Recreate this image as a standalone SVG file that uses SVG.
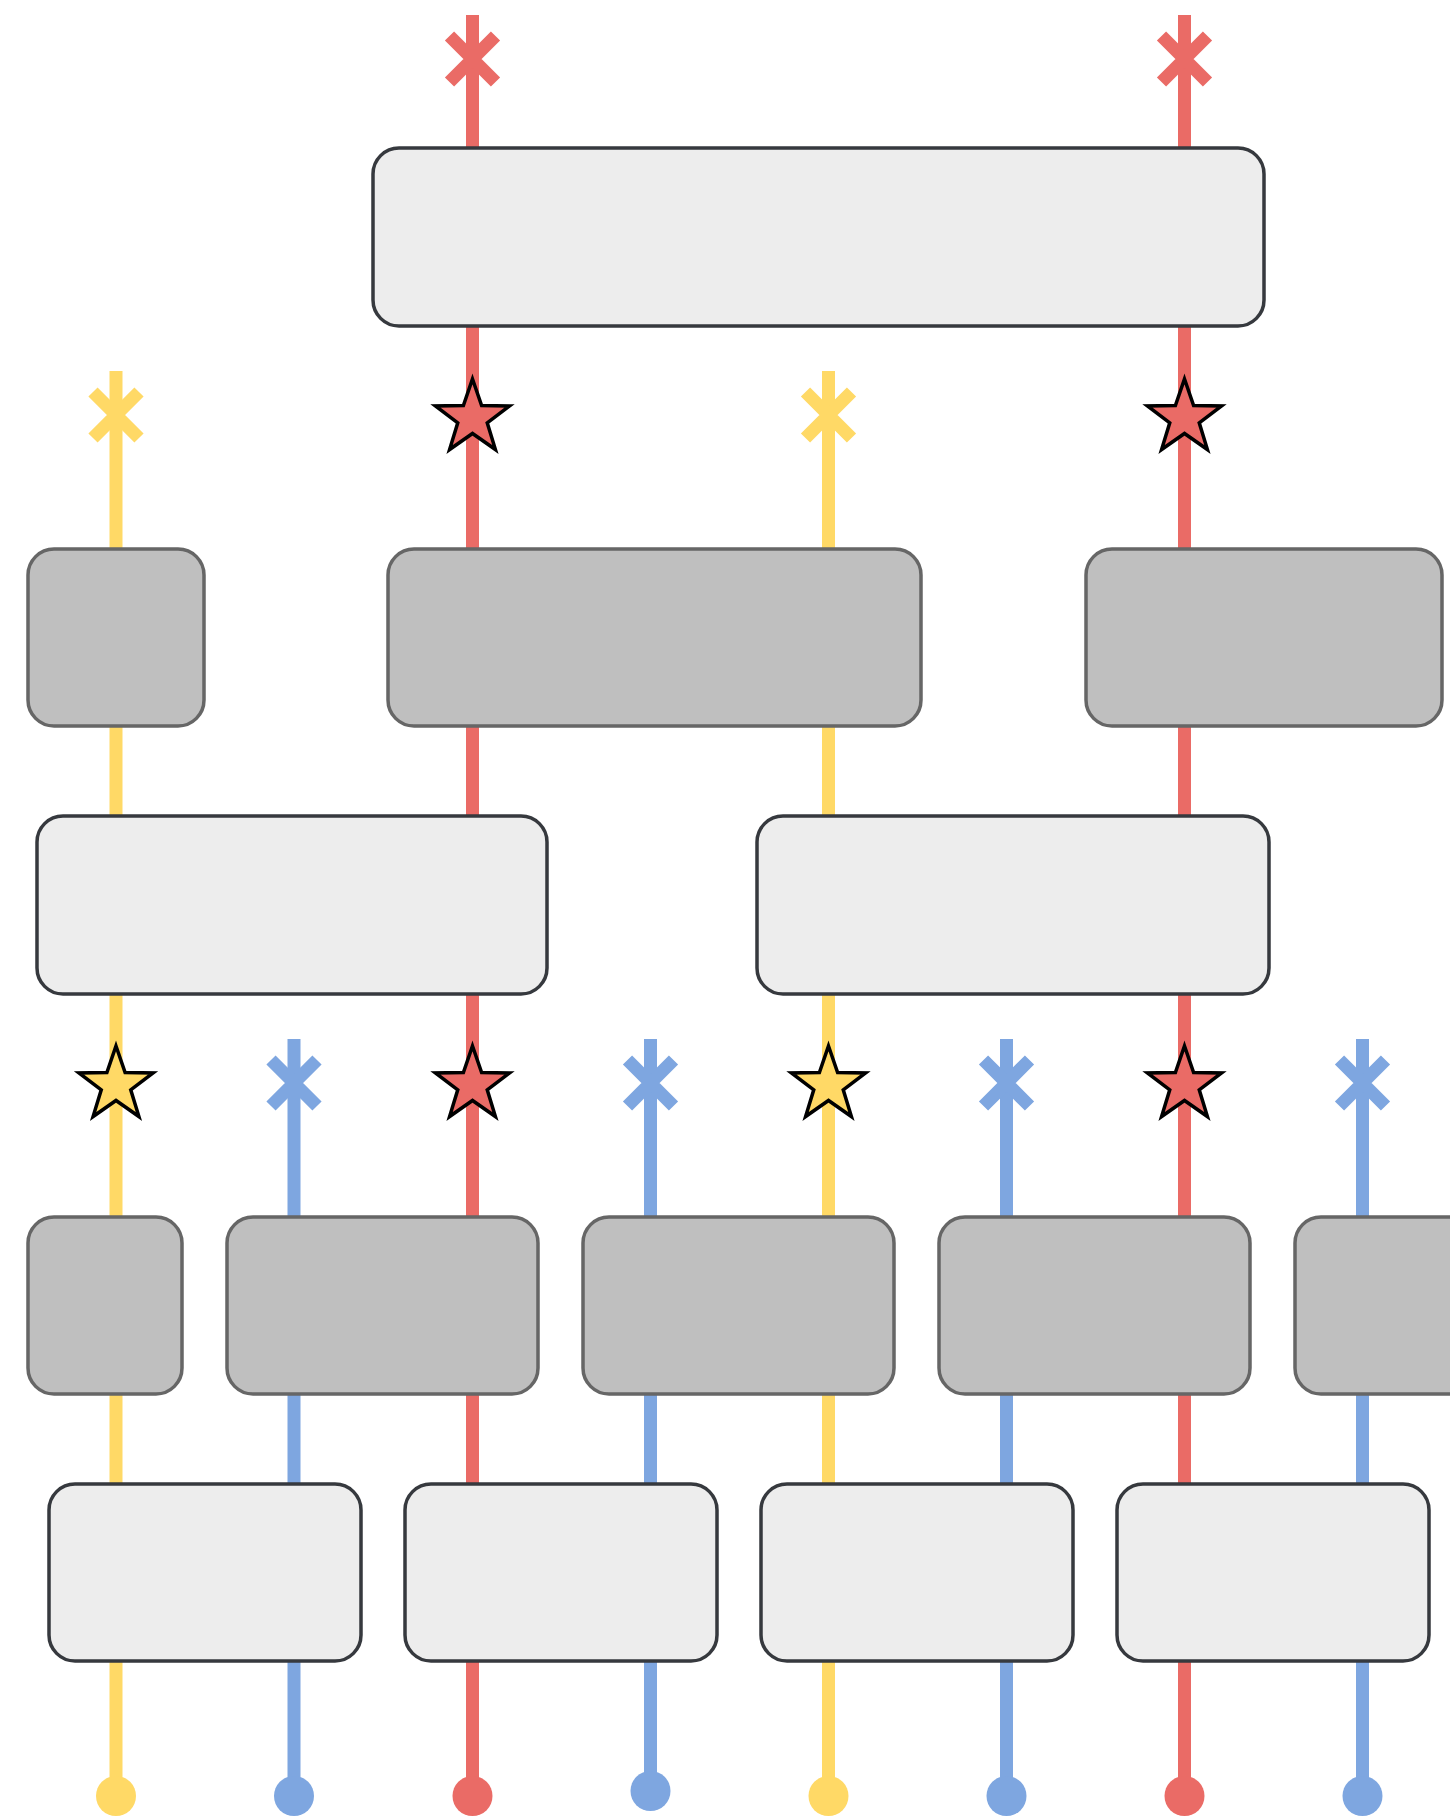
<svg xmlns="http://www.w3.org/2000/svg" xmlns:xlink="http://www.w3.org/1999/xlink" width="1450" height="1819" viewBox="0 0 1450 1819">
<style>
.w{stroke-width:13;fill:none;stroke-linecap:butt}
.r{stroke:#ea6b66}.y{stroke:#ffd966}.b{stroke:#7ea6e0}
.rf{fill:#ea6b66}.yf{fill:#ffd966}.bf{fill:#7ea6e0}
.light{fill:#ededed;stroke:#36393e;stroke-width:3.5}
.gray{fill:#bfbfbf;stroke:#666666;stroke-width:3.5}
.st{stroke:#000000;stroke-width:3.5;stroke-linejoin:miter}
</style>
<defs>
<path id="star" d="M0,-39 L9.11,-12.54 L37.09,-12.05 L14.74,4.79 L22.92,31.55 L0,15.5 L-22.92,31.55 L-14.74,4.79 L-37.09,-12.05 L-9.11,-12.54 Z"/>
<path id="xm" d="M-23,-23 L23,23 M23,-23 L-23,23"/>
</defs>
<g id="connectors">
<line class="w r" x1="472.5" y1="15" x2="472.5" y2="1796"/>
<line class="w r" x1="1184.5" y1="15" x2="1184.5" y2="1796"/>
<line class="w y" x1="116" y1="371" x2="116" y2="1796"/>
<line class="w y" x1="828.5" y1="371" x2="828.5" y2="1796"/>
<line class="w b" x1="294" y1="1039" x2="294" y2="1796"/>
<line class="w b" x1="650.5" y1="1039" x2="650.5" y2="1791"/>
<line class="w b" x1="1006.5" y1="1039" x2="1006.5" y2="1796"/>
<line class="w b" x1="1362.5" y1="1039" x2="1362.5" y2="1796"/>
<use xlink:href="#xm" class="w r" x="472.5" y="59"/>
<use xlink:href="#xm" class="w r" x="1184.5" y="59"/>
<use xlink:href="#xm" class="w y" x="116" y="415"/>
<use xlink:href="#xm" class="w y" x="828.5" y="415"/>
<use xlink:href="#xm" class="w b" x="294" y="1083"/>
<use xlink:href="#xm" class="w b" x="650.5" y="1083"/>
<use xlink:href="#xm" class="w b" x="1006.5" y="1083"/>
<use xlink:href="#xm" class="w b" x="1362.5" y="1083"/>
<circle class="yf" cx="116" cy="1796" r="20"/>
<circle class="bf" cx="294" cy="1796" r="20"/>
<circle class="rf" cx="472.5" cy="1796" r="20"/>
<circle class="bf" cx="650.5" cy="1791" r="20"/>
<circle class="yf" cx="828.5" cy="1796" r="20"/>
<circle class="bf" cx="1006.5" cy="1796" r="20"/>
<circle class="rf" cx="1184.5" cy="1796" r="20"/>
<circle class="bf" cx="1362.5" cy="1796" r="20"/>
</g>
<g id="node-top"><rect class="light" x="373" y="148" width="891" height="178" rx="26"/></g>
<g id="node-g1"><rect class="gray" x="28" y="549" width="176" height="177" rx="26"/></g>
<g id="node-g2"><rect class="gray" x="388" y="549" width="533" height="177" rx="26"/></g>
<g id="node-g3"><rect class="gray" x="1086" y="549" width="356" height="177" rx="26"/></g>
<g id="node-l1"><rect class="light" x="37" y="816" width="510" height="178" rx="26"/></g>
<g id="node-l2"><rect class="light" x="757" y="816" width="512" height="178" rx="26"/></g>
<g id="node-g4"><rect class="gray" x="28" y="1217" width="154" height="177" rx="26"/></g>
<g id="node-g5"><rect class="gray" x="227" y="1217" width="311" height="177" rx="26"/></g>
<g id="node-g6"><rect class="gray" x="583" y="1217" width="311" height="177" rx="26"/></g>
<g id="node-g7"><rect class="gray" x="939" y="1217" width="311" height="177" rx="26"/></g>
<g id="node-g8"><rect class="gray" x="1295" y="1217" width="311" height="177" rx="26"/></g>
<g id="node-l3"><rect class="light" x="49" y="1484" width="312" height="177" rx="26"/></g>
<g id="node-l4"><rect class="light" x="405" y="1484" width="312" height="177" rx="26"/></g>
<g id="node-l5"><rect class="light" x="761" y="1484" width="312" height="177" rx="26"/></g>
<g id="node-l6"><rect class="light" x="1117" y="1484" width="312" height="177" rx="26"/></g>
<g id="stars">
<use xlink:href="#star" class="rf st" x="472.5" y="418"/>
<use xlink:href="#star" class="rf st" x="1184.5" y="418"/>
<use xlink:href="#star" class="yf st" x="116" y="1085"/>
<use xlink:href="#star" class="rf st" x="472.5" y="1085"/>
<use xlink:href="#star" class="yf st" x="828.5" y="1085"/>
<use xlink:href="#star" class="rf st" x="1184.5" y="1085"/>
</g>
</svg>
